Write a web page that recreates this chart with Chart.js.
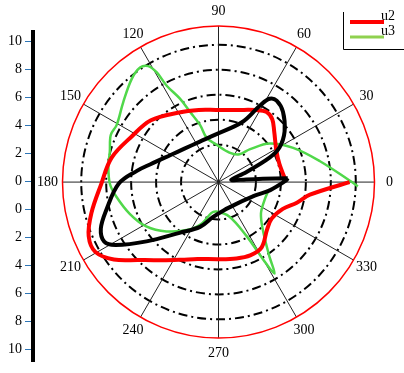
<!DOCTYPE html>
<html>
<head>
<meta charset="utf-8">
<script src="https://cdn.jsdelivr.net/npm/chart.js@4.4.1/dist/chart.umd.min.js"></script>
<style>
  html, body { margin: 0; padding: 0; background: #fff; }
  #wrap { width: 404px; height: 373px; }
</style>
</head>
<body>
<div id="wrap"><canvas id="myChart" width="404" height="373"></canvas></div>
<script>
// angle labels round the circle (degrees)
const angleTicks = [0, 30, 60, 90, 120, 150, 180, 210, 240, 270, 300, 330];
// dash-dot rings and outer circle, in radius units
const ringValues = [3, 5, 7, 9, 11];
const outerRadius = 12.5;
// labels of the left axis, top to bottom
const leftLabels = ["10", "8", "6", "4", "2", "0", "0", "2", "4", "6", "8", "10"];

// u2 (red)
const u2Angles = [4, 17, 29, 43, 50, 56, 63, 75, 92, 105, 119, 137, 152, 167, 181, 194, 203, 210, 217, 225, 235, 245, 255, 270, 283, 293, 303, 315, 325, 337, 345, 352, 360];
const u2Radii = [5.3, 5.1, 5.3, 6.1, 6.7, 6.9, 6.6, 6.1, 5.9, 6.1, 6.5, 7.4, 7.9, 8.8, 9.4, 10.5, 11.3, 11.4, 10.5, 9.0, 7.8, 7.0, 6.5, 6.3, 6.4, 6.5, 6.35, 5.5, 5.2, 5.6, 6.5, 7.4, 10.5];

// u3 (green)
const u3Angles = [-1.8, 0.7, 12, 25, 37.6, 47, 53.5, 70, 93.5, 104.7, 107.6, 111.7, 114.4, 117.8, 118.9, 120.7, 123.9, 129.6, 139.4, 150.2, 156, 164, 172, 181, 188, 200, 212, 224, 239, 249, 257, 266, 287, 297, 299.5, 301, 304, 312.5, 323, 338, 348.5];
const u3Radii = [11.17, 10.5, 8.28, 6.6, 5.16, 3.65, 2.83, 2.56, 3.08, 3.73, 4.9, 6.18, 7.48, 8.9, 10.23, 11.02, 11.27, 10.92, 10.05, 9.4, 9.45, 9.06, 8.91, 8.7, 8.29, 7.57, 6.83, 5.8, 4.52, 3.57, 2.6, 2.41, 2.94, 4.93, 7.21, 8.72, 7.27, 5.25, 4.26, 3.97, 4.03];

// black curve (no legend entry)
const u1Angles = [3.3, 4.3, 5.5, 10.4, 20, 26, 30, 38, 48, 55, 59, 62, 68.5, 93, 115, 135, 150, 165, 172, 181, 194, 202, 208, 212, 220, 233, 248, 261, 280, 310, 339, 351, 1.4, 3.3];
const u1Radii = [5.56, 3.56, 2.23, 1.03, 2.36, 4.55, 5.64, 6.72, 7.72, 8.12, 7.94, 7.08, 5.3, 3.9, 3.63, 3.86, 4.43, 5.64, 6.6, 8.0, 9.25, 10.17, 10.37, 9.7, 7.53, 5.19, 3.95, 2.9, 2.35, 2.3, 3.1, 4.2, 5.42, 5.56];

const legendNames = ["u2", "u3"];
const legendColors = ["#ff0000", "#8fd14f"];

function toXY(angles, radii) {
  return angles.map((a, i) => {
    const t = a * Math.PI / 180;
    return { x: radii[i] * Math.cos(t), y: radii[i] * Math.sin(t) };
  });
}

// pixel geometry of the plot
const PX = 12.48;          // pixels per radius unit
const CX = 218.5, CY = 185;
const AREA = { left: 33, top: 32, right: 400, bottom: 368 };
const LEFT_STEP = 28.5;    // pixels between left axis labels
const LEFT_FIRST = 42;

const polarGrid = {
  id: "polarGrid",
  beforeDatasetsDraw(chart) {
    const { ctx, scales: { x, y } } = chart;
    const cx = x.getPixelForValue(0), cy = y.getPixelForValue(0);
    const unit = x.getPixelForValue(1) - cx;
    ctx.save();
    ctx.strokeStyle = "#000";
    ctx.lineWidth = 2;
    ctx.setLineDash([9, 4, 2, 4]);
    ringValues.forEach(v => {
      ctx.beginPath();
      ctx.arc(cx, cy, v * unit, 0, 2 * Math.PI);
      ctx.stroke();
    });
    ctx.setLineDash([]);
    ctx.lineWidth = 1;
    ctx.strokeStyle = "#222";
    angleTicks.forEach(a => {
      const t = a * Math.PI / 180;
      ctx.beginPath();
      ctx.moveTo(cx, cy);
      ctx.lineTo(cx + outerRadius * unit * Math.cos(t), cy - outerRadius * unit * Math.sin(t));
      ctx.stroke();
    });
    ctx.strokeStyle = "#ff0000";
    ctx.lineWidth = 1.5;
    ctx.beginPath();
    ctx.arc(cx, cy, outerRadius * unit, 0, 2 * Math.PI);
    ctx.stroke();
    ctx.restore();
  },
  afterDraw(chart) {
    const { ctx, scales: { x, y } } = chart;
    const cx = x.getPixelForValue(0), cy = y.getPixelForValue(0);
    const unit = x.getPixelForValue(1) - cx;
    const lr = outerRadius * unit + 15;
    ctx.save();
    ctx.fillStyle = "#000";
    ctx.font = "14px 'Liberation Serif'";
    ctx.textAlign = "center";
    ctx.textBaseline = "middle";
    angleTicks.forEach(a => {
      const t = a * Math.PI / 180;
      ctx.fillText(String(a), cx + lr * Math.cos(t), cy - lr * Math.sin(t));
    });
    // legend box
    ctx.strokeStyle = "#000";
    ctx.lineWidth = 1;
    ctx.beginPath();
    ctx.moveTo(343.5, 12);
    ctx.lineTo(343.5, 49.5);
    ctx.lineTo(404, 49.5);
    ctx.stroke();
    ctx.textAlign = "left";
    legendNames.forEach((name, i) => {
      const ly = 22 + 15 * i;
      ctx.strokeStyle = legendColors[i];
      ctx.lineWidth = i === 0 ? 4 : 3;
      ctx.beginPath();
      ctx.moveTo(350, ly);
      ctx.lineTo(384, ly);
      ctx.stroke();
      ctx.fillText(name, 381, ly - 6);
    });
    ctx.restore();
  }
};

new Chart(document.getElementById("myChart"), {
  type: "scatter",
  data: {
    datasets: [
      { label: "u1", data: toXY(u1Angles, u1Radii), borderColor: "#000", borderWidth: 4, tension: 0.35 },
      { label: "u2", data: toXY(u2Angles, u2Radii), borderColor: "#ff0000", borderWidth: 4, tension: 0.35 },
      { label: "u3", data: toXY(u3Angles, u3Radii), borderColor: "#50d84a", borderWidth: 2.5, tension: 0.35 }
    ].map(d => Object.assign(d, { showLine: true, pointRadius: 0, clip: false, fill: false }))
  },
  options: {
    responsive: false,
    animation: false,
    events: [],
    layout: { padding: { top: AREA.top, right: 404 - AREA.right, bottom: 373 - AREA.bottom, left: 0 } },
    plugins: { legend: { display: false }, tooltip: { enabled: false } },
    scales: {
      x: { type: "linear", display: false, min: -(CX - AREA.left) / PX, max: (AREA.right - CX) / PX },
      y: { type: "linear", display: false, min: -(AREA.bottom - CY) / PX, max: (CY - AREA.top) / PX },
      yl: {
        type: "linear",
        position: "left",
        reverse: true,
        min: -(LEFT_FIRST - AREA.top) / LEFT_STEP,
        max: (AREA.bottom - LEFT_FIRST) / LEFT_STEP,
        afterBuildTicks: (scale) => { scale.ticks = leftLabels.map((_, i) => ({ value: i })); },
        afterFit: (scale) => { scale.width = AREA.left; },
        ticks: {
          autoSkip: false,
          padding: 3,
          color: "#000",
          font: { family: "'Liberation Serif'", size: 14 },
          callback: (v) => leftLabels[v]
        },
        grid: { drawOnChartArea: false, tickLength: 8, tickColor: "#2e75b6", tickWidth: 1 },
        border: { color: "#000", width: 4 }
      }
    }
  },
  plugins: [polarGrid]
});
</script>
</body>
</html>
